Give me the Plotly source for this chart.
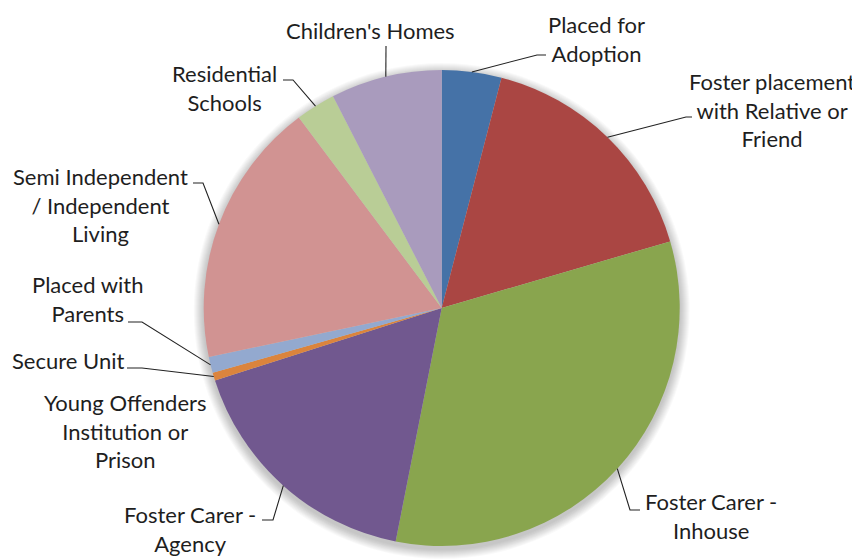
import math
import plotly.graph_objects as go

# ---------------- data ----------------
categories = [
    "Placed for Adoption",
    "Foster placement with Relative or Friend",
    "Foster Carer - Inhouse",
    "Foster Carer - Agency",
    "Young Offenders Institution or Prison",
    "Secure Unit",
    "Placed with Parents",
    "Semi Independent / Independent Living",
    "Residential Schools",
    "Children's Homes",
]
label_text = [
    "Placed for<br>Adoption",
    "Foster placement<br>with Relative or<br>Friend",
    "Foster Carer -<br>Inhouse",
    "Foster Carer -<br>Agency",
    "Young Offenders<br>Institution or<br>Prison",
    "Secure Unit",
    "Placed with<br>Parents",
    "Semi Independent<br>/ Independent<br>Living",
    "Residential<br>Schools",
    "Children's Homes",
]
values = [15, 61, 121, 63, 0, 2, 4, 67, 10, 28]

# ---------------- style / layout ----------------
colors = ["#4572A7", "#AA4643", "#89A54E", "#71588F", "#4198AF",
          "#DB843D", "#93A9CF", "#D19392", "#B9CD96", "#A99BBD"]

W, H = 860, 559
OFF = 8                          # page body margin of the html page
CX, CY, R = 441.7, 308.0, 238.0   # pie centre / radius in screen pixels
FONT = "Lato"
FS = 22
TXT = "#1e1e1e"

# label block centres (px) and leader elbows/ends (px), screen coordinates
label_pos = [(596, 39), (772, 110), (711, 516), (190, 529), (125, 431),
             (68, 360), (87, 299), (100, 205), (224, 88), (370, 30)]
leader_pts = [((537, 55), (546, 55)), ((686, 117), (692, 117)),
              ((630, 510), (640, 510)), ((273, 520), (262, 520)), None,
              ((142, 368), (127, 368)), ((142, 322), (128, 322)),
              ((203, 183), (193, 183)), ((293, 80), (283, 80)),
              ((386, 46), (386, 46))]


def px(x):
    return (x - OFF) / W


def py(y):
    return 1 - (y - OFF) / H


fig = go.Figure()
fig.add_trace(go.Pie(
    labels=categories,
    values=values,
    sort=False,
    direction="clockwise",
    rotation=0,
    marker=dict(colors=colors, line=dict(width=0)),
    textinfo="none",
    hoverinfo="label+value+percent",
    showlegend=False,
    domain=dict(x=[px(CX - R), px(CX + R)], y=[py(CY + R), py(CY - R)]),
))

shapes = []
# soft shadow behind the pie
for k in range(10, 0, -1):
    rr = R + k
    oy = 3
    shapes.append(dict(type="circle", xref="paper", yref="paper", layer="below",
                       x0=px(CX - rr), x1=px(CX + rr),
                       y0=py(CY + oy + rr), y1=py(CY + oy - rr),
                       fillcolor="rgba(0,0,0,0.022)", line=dict(width=0)))

total = sum(values)
cum = 0
annotations = []
for i, v in enumerate(values):
    mid = (cum + v / 2) / total * 2 * math.pi
    cum += v
    rx = CX + R * math.sin(mid)
    ry = CY - R * math.cos(mid)
    lp = leader_pts[i]
    if lp is not None:
        (ex, ey), (tx, ty) = lp
        path = f"M {px(rx)},{py(ry)} L {px(ex)},{py(ey)} L {px(tx)},{py(ty)}"
        shapes.append(dict(type="path", xref="paper", yref="paper", path=path,
                           line=dict(color="#222222", width=1.1)))
    lx, ly = label_pos[i]
    annotations.append(dict(
        x=px(lx), y=py(ly), xref="paper", yref="paper",
        text=label_text[i], showarrow=False, align="center",
        xanchor="center", yanchor="middle",
        font=dict(family=FONT, size=FS, color=TXT),
    ))

fig.update_layout(
    width=W, height=H,
    margin=dict(l=0, r=0, t=0, b=0),
    paper_bgcolor="white",
    plot_bgcolor="white",
    shapes=shapes,
    annotations=annotations,
)

fig.write_html("out.html")
